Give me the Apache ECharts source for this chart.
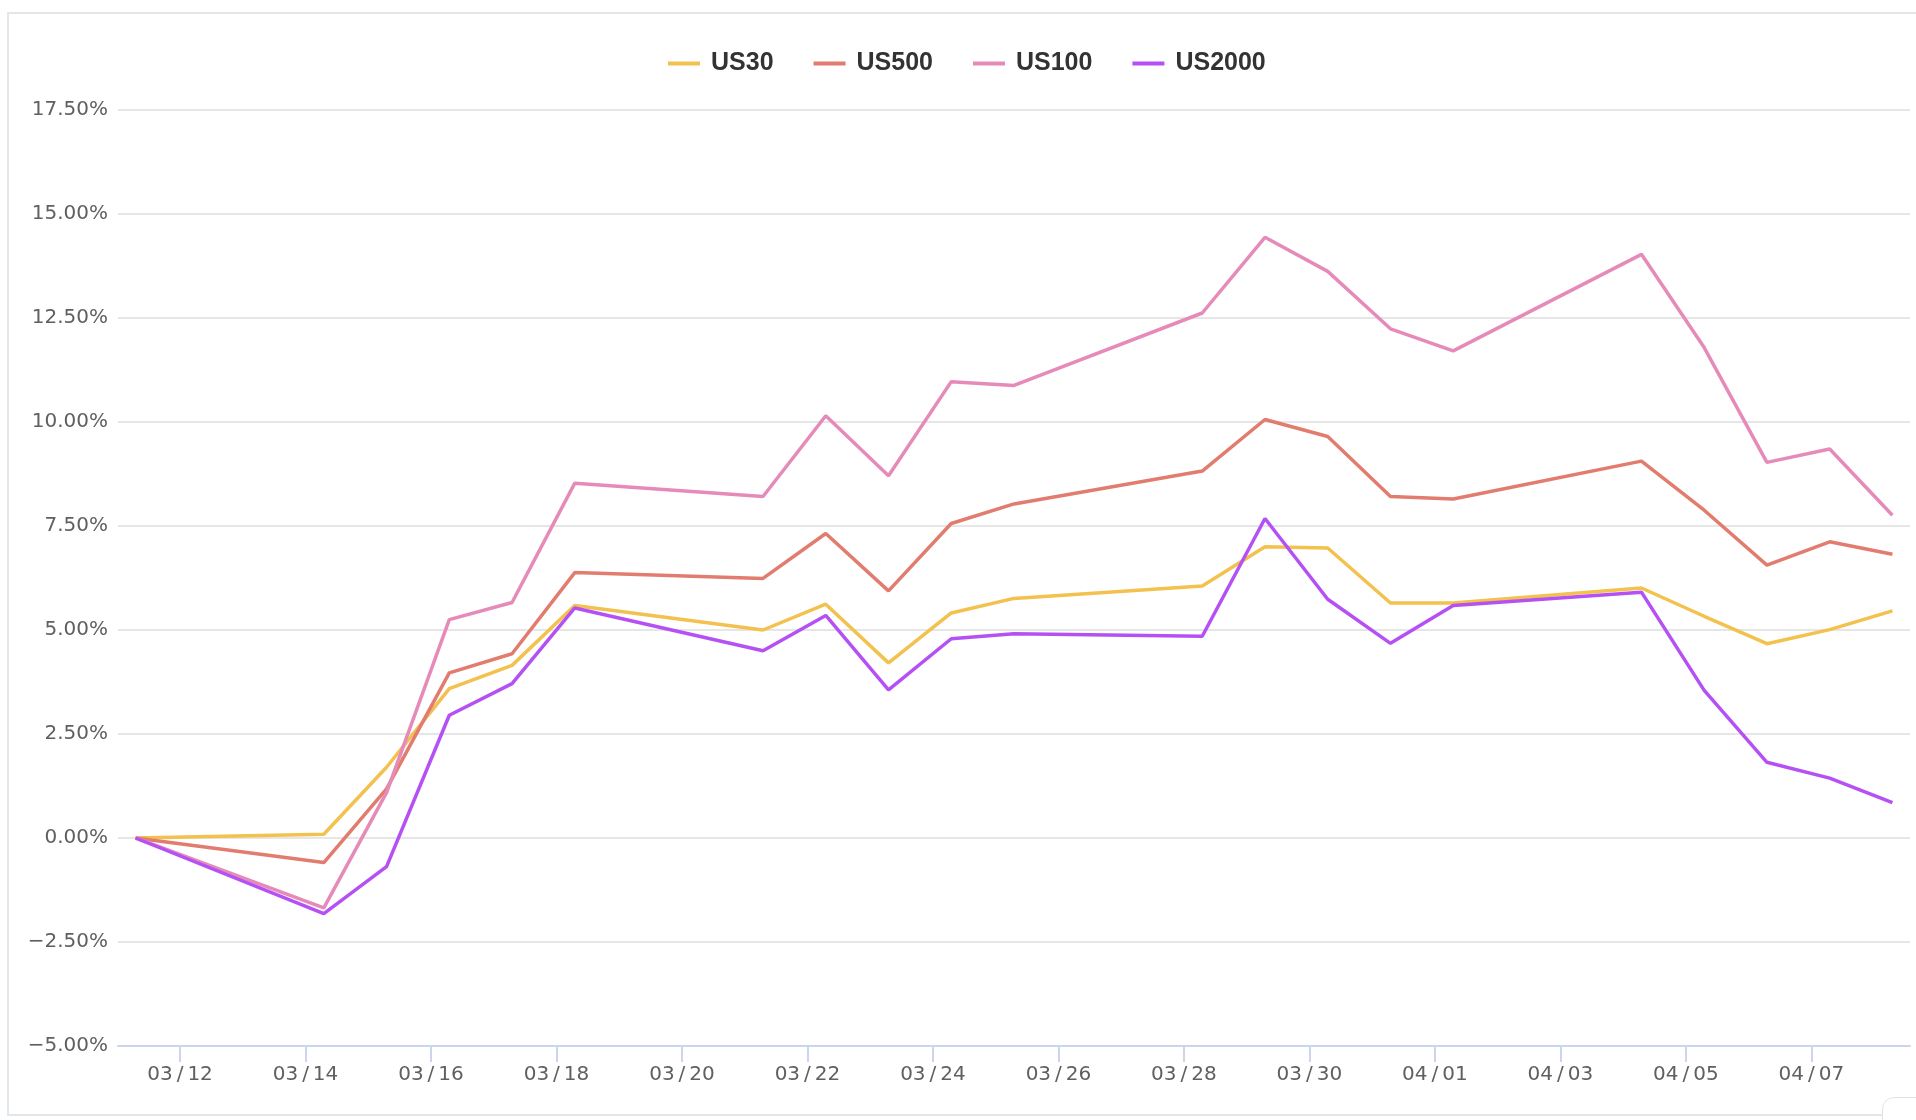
<!DOCTYPE html>
<html><head><meta charset="utf-8">
<script src="https://cdn.jsdelivr.net/npm/echarts@6/dist/echarts.min.js"></script>
<style>
html,body{margin:0;padding:0;background:#fff;width:1916px;height:1120px;overflow:hidden;}
#frame{position:absolute;left:7px;top:12px;width:2000px;height:1104px;border:2px solid #e2e7eb;box-sizing:border-box;}
#corner{position:absolute;left:1882px;top:1097px;width:80px;height:60px;border:1px solid #e3e3e3;border-radius:12px;background:#fff;}
#chart{position:absolute;left:0;top:0;width:1916px;height:1120px;}
</style></head><body>
<div id="frame"></div><div id="chart"></div><div id="corner"></div>
<script>
const dates = ['2022-03-11 07:00','2022-03-14 07:00','2022-03-15 07:00','2022-03-16 07:00','2022-03-17 07:00','2022-03-18 07:00',
  '2022-03-21 07:00','2022-03-22 07:00','2022-03-23 07:00','2022-03-24 07:00','2022-03-25 07:00',
  '2022-03-28 07:00','2022-03-29 07:00','2022-03-30 07:00','2022-03-31 07:00','2022-04-01 07:00',
  '2022-04-04 07:00','2022-04-05 07:00','2022-04-06 07:00','2022-04-07 07:00','2022-04-08 07:00'];
const us30   = [0, 0.09, 1.70, 3.59, 4.15, 5.59, 5.00, 5.62, 4.21, 5.41, 5.76, 6.06, 7.00, 6.97, 5.65, 5.65, 6.01, 5.33, 4.67, 5.01, 5.46];
const us500  = [0, -0.59, 1.18, 3.97, 4.43, 6.38, 6.24, 7.32, 5.94, 7.56, 8.03, 8.82, 10.06, 9.65, 8.21, 8.15, 9.06, 7.88, 6.56, 7.12, 6.82];
const us100  = [0, -1.68, 1.09, 5.25, 5.66, 8.53, 8.21, 10.15, 8.71, 10.97, 10.88, 12.62, 14.44, 13.62, 12.24, 11.71, 14.03, 11.79, 9.03, 9.35, 7.76];
const us2000 = [0, -1.82, -0.69, 2.95, 3.71, 5.53, 4.50, 5.35, 3.56, 4.79, 4.91, 4.85, 7.68, 5.74, 4.68, 5.59, 5.91, 3.55, 1.82, 1.44, 0.85];
const seriesNames = ['US30', 'US500', 'US100', 'US2000'];
const tickDates = ['2022-03-12','2022-03-14','2022-03-16','2022-03-18','2022-03-20','2022-03-22','2022-03-24',
  '2022-03-26','2022-03-28','2022-03-30','2022-04-01','2022-04-03','2022-04-05','2022-04-07'];
const yMin = -5, yMax = 17.5, yStep = 2.5;

const colors = ['#F2C14E', '#E27C6F', '#E68BB9', '#B551F4'];
const values = [us30, us500, us100, us2000];
const toTime = d => echarts.number.parseDate(d).getTime();
const times = dates.map(toTime);
const tickValues = tickDates.map(toTime);
const pad = n => (n < 10 ? '0' : '') + n;

const chart = echarts.init(document.getElementById('chart'), null, {renderer: 'canvas'});
chart.setOption({
  backgroundColor: 'transparent',
  animation: false,
  legend: {
    left: 663, top: 46, itemWidth: 32, itemHeight: 4, itemGap: 40,
    icon: 'rect',
    textStyle: {fontFamily: 'Liberation Sans', fontWeight: 'bold', fontSize: 25, color: '#333333', padding: [0, 0, 0, 6]},
    data: seriesNames
  },
  grid: {left: 118, right: 6, top: 110, bottom: 74, containLabel: false, outerBoundsMode: 'none'},
  xAxis: {
    type: 'value',
    scale: true,
    min: v => v.min - (v.max - v.min) * 0.01,
    max: v => v.max + (v.max - v.min) * 0.01,
    axisLine: {show: true, onZero: false, lineStyle: {color: '#ccd6eb', width: 2}},
    axisTick: {show: true, length: 16, lineStyle: {color: '#ccd6eb', width: 2}, customValues: tickValues},
    splitLine: {show: false},
    axisLabel: {
      customValues: tickValues,
      margin: 19,
      color: '#606060', fontFamily: 'DejaVu Sans', fontSize: 20,
      formatter: v => { const d = new Date(v); return '{a|' + pad(d.getMonth() + 1) + '}{s|/}{a|' + pad(d.getDate()) + '}'; },
      rich: {
        a: {color: '#606060', fontFamily: 'DejaVu Sans', fontSize: 20},
        s: {color: '#606060', fontFamily: 'DejaVu Sans', fontSize: 20, padding: [0, 4, 0, 4]}
      }
    }
  },
  yAxis: {
    type: 'value', min: yMin, max: yMax, interval: yStep,
    axisLine: {show: false}, axisTick: {show: false},
    splitLine: {show: true, lineStyle: {color: '#e6e6e6', width: 2}},
    axisLabel: {
      margin: 10, color: '#606060', fontFamily: 'DejaVu Sans', fontSize: 20,
      formatter: v => (v < 0 ? '\u2212' : '') + Math.abs(v).toFixed(2) + '%'
    }
  },
  series: seriesNames.map((name, k) => ({
    name, type: 'line', symbol: 'none', showSymbol: false,
    color: colors[k],
    itemStyle: {color: colors[k]},
    lineStyle: {width: 3.5, color: colors[k]},
    data: times.map((t, i) => [t, values[k][i]])
  }))
});
</script></body></html>
